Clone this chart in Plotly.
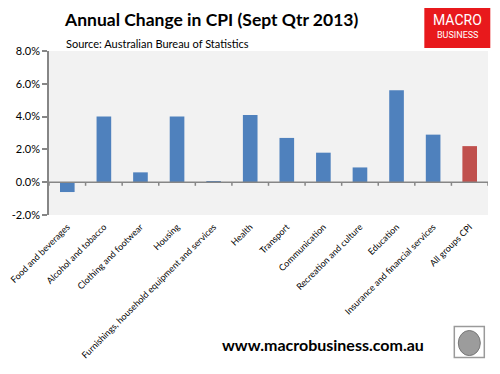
import plotly.graph_objects as go

categories = ["Food and beverages", "Alcohol and tobacco", "Clothing and footwear", "Housing",
              "Furnishings, household equipment and services", "Health", "Transport",
              "Communication", "Recreation and culture", "Education",
              "Insurance and financial services", "All groups CPI"]
values = [-0.6, 4.0, 0.6, 4.0, 0.06, 4.1, 2.7, 1.8, 0.9, 5.6, 2.9, 2.2]
colors = ["#4F81BD"] * 11 + ["#C0504D"]
y_ticks = [-2, 0, 2, 4, 6, 8]

FONT = "Lato"
AXC = "#868686"

# page body has an 8px default margin; figure is sized to fit the 500x374 window
W, H = 492, 366
L, R, T, B = 40.5, 12.3, 43, 159.3
PW, PH = W - L - R, H - T - B


def px(x):
    return (x - 8 - L) / PW


def py(y):
    return (H - B - (y - 8)) / PH


fig = go.Figure()
fig.add_trace(go.Bar(x=categories, y=values, marker=dict(color=colors, line=dict(width=0)),
                     hoverinfo="x+y"))

fig.update_layout(
    width=W, height=H,
    margin=dict(l=L, r=R, t=T, b=B, autoexpand=False),
    paper_bgcolor="white", plot_bgcolor="#F2F2F2",
    showlegend=False, bargap=0.6,
    font=dict(family=FONT, color="#000000", size=10),
    xaxis=dict(type="category", showline=False, ticks="", showgrid=False,
               automargin=False, ticklabelstandoff=4,
               tickangle=-45, tickfont=dict(size=9, family=FONT),
               range=[-0.5, len(categories) - 0.5], fixedrange=True),
    yaxis=dict(range=[-2, 8], tickvals=y_ticks, ticktext=[f"{v:.1f}%" for v in y_ticks],
               showline=True, linecolor=AXC, linewidth=1.5, ticks="outside",
               ticklen=5, tickcolor=AXC, tickwidth=1.5, showgrid=False, automargin=False,
               zeroline=False, tickfont=dict(size=11, family=FONT), fixedrange=True),
)

# category axis drawn at zero, with tick marks on category boundaries
fig.add_shape(type="line", xref="x", yref="y", x0=-0.5, x1=len(categories) - 0.5, y0=0, y1=0,
              line=dict(color=AXC, width=1.5), layer="above")
for i in range(len(categories) + 1):
    fig.add_shape(type="line", xref="x", yref="y", x0=i - 0.5, x1=i - 0.5, y0=0, y1=-0.22,
                  line=dict(color=AXC, width=1.5), layer="above")

fig.add_annotation(text="<b>Annual Change in CPI (Sept Qtr 2013)</b>", xref="paper", yref="paper",
                   x=px(62), y=py(20), xanchor="left", yanchor="middle",
                   showarrow=False, font=dict(size=17.5, family=FONT, color="#000000"))
fig.add_annotation(text="Source: Australian Bureau of Statistics", xref="paper", yref="paper",
                   x=px(64), y=py(44), xanchor="left", yanchor="middle",
                   showarrow=False, font=dict(size=11, family=FONT, color="#000000"))
fig.add_annotation(text="<b>www.macrobusiness.com.au</b>", xref="paper", yref="paper",
                   x=px(323), y=py(344), xanchor="center", yanchor="middle",
                   showarrow=False, font=dict(size=16, family=FONT, color="#000000"))

# logo box
fig.add_shape(type="rect", xref="paper", yref="paper",
              x0=px(424), x1=px(490), y0=py(48), y1=py(6),
              fillcolor="#E8191C", line=dict(width=0), layer="above")
fig.add_annotation(text="MACRO", xref="paper", yref="paper",
                   x=px(457), y=py(20), xanchor="center", yanchor="middle",
                   showarrow=False, font=dict(size=14, family="Roboto", color="white"))
fig.add_annotation(text="BUSINESS", xref="paper", yref="paper",
                   x=px(457), y=py(35), xanchor="center", yanchor="middle",
                   showarrow=False, font=dict(size=9, family="Roboto", color="white"))
# wolf image placeholder
fig.add_shape(type="rect", xref="paper", yref="paper",
              x0=px(454), x1=px(484), y0=py(357), y1=py(326),
              fillcolor="white", line=dict(color="#9A9A9A", width=1.5))
fig.add_shape(type="circle", xref="paper", yref="paper",
              x0=px(458), x1=px(480), y0=py(355), y1=py(330),
              fillcolor="#9C9C9C", line=dict(color="#777777", width=1))

fig.write_html("out.html")
